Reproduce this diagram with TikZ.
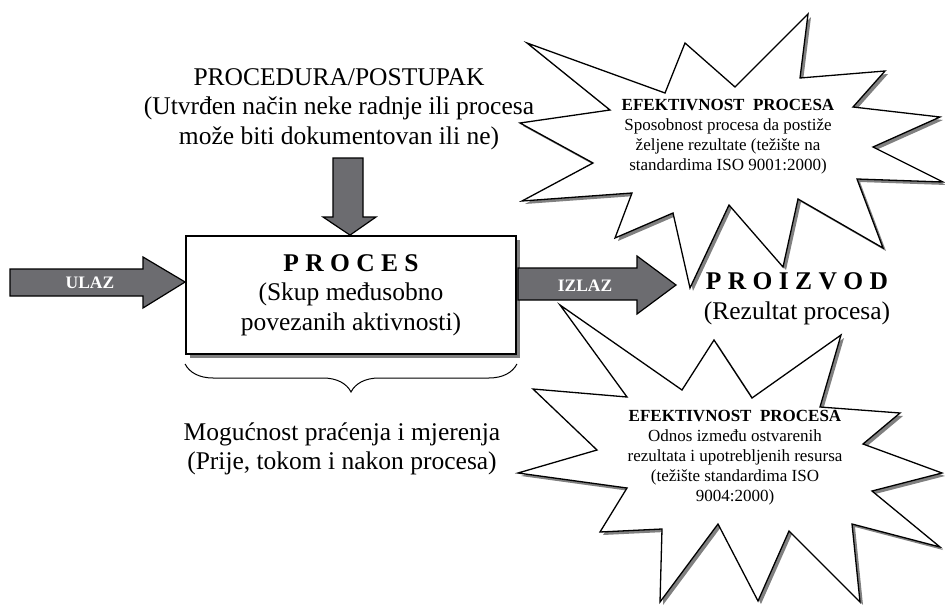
\documentclass[tikz,border=0pt]{standalone}
\usepackage{fontspec}
\setmainfont{Liberation Serif}
\usetikzlibrary{decorations.pathreplacing}
\definecolor{arrowgray}{RGB}{108,108,112}
\definecolor{shadowgray}{RGB}{128,128,128}
% outlines of the two stars
\newcommand{\topstarpath}{(527,43) -- (665,93) -- (685,43) -- (735,87) -- (808,14) -- (800,78) -- (885,71) -- (853,107) -- (940,117) -- (873,147) -- (943,182) -- (857,179) -- (883,248) -- (798,199) -- (783,267) -- (729,205) -- (690,288) -- (673,213) -- (615,238) -- (632,193) -- (522,201) -- (593,163) -- (520,123) -- (610,110) -- cycle}
\newcommand{\bottomstarpath}{(560,305) -- (682,390) -- (714,340) -- (752,398) -- (841,335) -- (820,407) -- (900,413) -- (863,444) -- (942,473) -- (872,491) -- (940,547) -- (852,524) -- (860,602) -- (789,531) -- (758,601) -- (718,524) -- (660,602) -- (662,529) -- (600,532) -- (627,488) -- (518,473) -- (597,450) -- (533,389) -- (627,397) -- cycle}
\begin{document}
\begin{tikzpicture}[x=1pt, y=-1pt,
  arrow_style/.style={draw=black, fill=arrowgray, line width=1.2pt, line join=miter},
  arrow_text/.style={text=white, font=\fontsize{17.5}{20}\selectfont\bfseries},
  star_style/.style={draw=black, fill=white, line width=1.3pt, line join=miter},
  star_shadow/.style={fill=shadowgray},
  big_text/.style={align=center, font=\fontsize{25.5}{29.5}\selectfont},
  star_text/.style={align=center, font=\fontsize{17}{20}\selectfont}]
  \useasboundingbox (0,0) rectangle (945,605);

  % stars
  \fill[star_shadow, shift={(3,3)}] \topstarpath;
  \draw[star_style] \topstarpath;
  \fill[star_shadow, shift={(3,3)}] \bottomstarpath;
  \draw[star_style] \bottomstarpath;
  \node[star_text] (efektivnost_a) at (728,137) {\textbf{EFEKTIVNOST\ \ PROCESA}\\Sposobnost procesa da postiže\\željene rezultate (težište na\\standardima ISO 9001:2000)};
  \node[star_text] (efektivnost_b) at (735,458) {\textbf{EFEKTIVNOST\ \ PROCESA}\\Odnos između ostvarenih\\rezultata i upotrebljenih resursa\\(težište standardima ISO\\9004:2000)};

  % process box
  \fill[shadowgray] (190,240) rectangle (520,358);
  \node[draw, fill=white, line width=1.8pt, minimum width=330pt, minimum height=118pt, inner sep=0pt, big_text] (proces) at (351,295) {{\bfseries P R O C E S}\\(Skup međusobno\\povezanih aktivnosti)};

  % input, output and procedure arrows
  \draw[arrow_style] (10,269) -- (143,269) -- (143,257) -- (proces.west |- 0,282) -- (143,308) -- (143,296) -- (10,296) -- cycle;
  \node[arrow_text] (ulaz) at (90,283) {ULAZ};
  \draw[arrow_style] (518,268) -- (637,268) -- (637,256) -- (676,285) -- (637,314) -- (637,300) -- (518,300) -- cycle;
  \node[arrow_text] (izlaz) at (585,286) {IZLAZ};
  \draw[arrow_style] (333,158) -- (363,158) -- (363,217) -- (376,217) -- (proces.north -| 350,0) -- (323,217) -- (333,217) -- cycle;

  \node[big_text] (procedura) at (339,109) {PROCEDURA/POSTUPAK\\(Utvrđen način neke radnje ili procesa\\može biti dokumentovan ili ne)};
  \node[big_text] (proizvod) at (797,299) {{\bfseries P R O I Z V O D}\\(Rezultat procesa)};

  % monitoring brace
  \draw[decorate, decoration={brace, mirror, amplitude=28pt}, line width=1pt] (proces.south west |- 0,364) -- (proces.south east |- 0,364);
  \node[big_text] (pracenje) at (342,449) {Mogućnost praćenja i mjerenja\\(Prije, tokom i nakon procesa)};
\end{tikzpicture}
\end{document}
